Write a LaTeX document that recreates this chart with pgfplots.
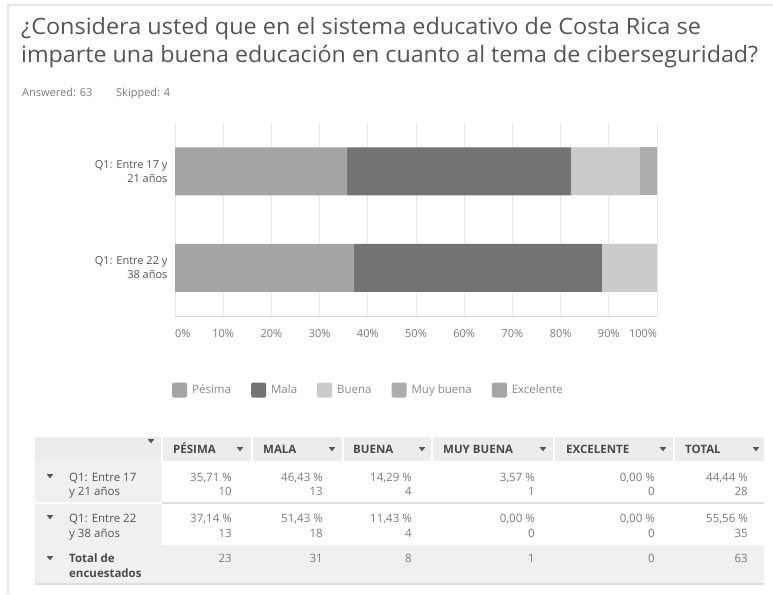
\documentclass[border=0pt]{standalone}
\usepackage{pgfplots}
\pgfplotsset{compat=1.18}
\usepackage{fontspec}
\setmainfont{Open Sans}[Ligatures=NoCommon]
\definecolor{titlec}{HTML}{555555}
\definecolor{subc}{HTML}{7A7A7A}
\definecolor{cardline}{HTML}{E6E6E6}
\definecolor{pesima}{HTML}{A4A4A4}
\definecolor{mala}{HTML}{747474}
\definecolor{buena}{HTML}{CBCBCB}
\definecolor{muybuena}{HTML}{ADADAD}
\definecolor{excelente}{HTML}{A6A6A6}
\definecolor{gridc}{HTML}{E8E8E8}
\definecolor{axisc}{HTML}{D2D2D2}
\definecolor{tickc}{HTML}{7A7A7A}
\definecolor{ylabc}{HTML}{555555}
\definecolor{legc}{HTML}{8A8A8A}
\definecolor{thead}{HTML}{ECECEC}
\definecolor{tgray}{HTML}{F0F0F0}
\definecolor{tline}{HTML}{DEDEDE}
\definecolor{theadtxt}{HTML}{4A4A4A}
\definecolor{tlab}{HTML}{555555}
\definecolor{tval}{HTML}{7A7A7A}
\definecolor{tarrow}{HTML}{555555}
\newcommand{\tarr}[2]{\fill[tarrow] (#1-3.2,#2-1.8) -- (#1+3.2,#2-1.8) -- (#1,#2+2.2) -- cycle;}
\begin{document}
\begin{tikzpicture}
\path[use as bounding box, fill=white] (0pt,0pt) rectangle (773pt,-594pt);
\begin{scope}[x=1pt,y=-1pt]
  \draw[cardline, line width=1.2pt] (773,5) -- (8,5) -- (8,594);
  \node[anchor=base west, inner sep=0pt, text=titlec, font=\fontsize{22.5}{26}\selectfont] at (21,35) {\scalebox{1.042}[1]{¿Considera usted que en el sistema educativo de Costa Rica se}};
  \node[anchor=base west, inner sep=0pt, text=titlec, font=\fontsize{22.5}{26}\selectfont] at (21,63) {\scalebox{1.034}[1]{imparte una buena educación en cuanto al tema de ciberseguridad?}};
  \node[anchor=base west, inner sep=0pt, text=subc, font=\fontsize{11}{13}\selectfont] at (22,96) {Answered: 63};
  \node[anchor=base west, inner sep=0pt, text=subc, font=\fontsize{11}{13}\selectfont] at (116,96) {Skipped: 4};
\end{scope}
\begin{axis}[
  at={(175pt,-316pt)}, anchor=south west,
  scale only axis, width=482pt, height=193pt,
  xbar stacked, bar width=48pt,
  xmin=0, xmax=100, ymin=-0.5, ymax=1.5,
  enlargelimits=false,
  separate axis lines,
  axis x line*=bottom, axis y line*=left,
  x axis line style={-, draw=axisc, line width=1pt},
  y axis line style={draw=none},
  major tick length=0pt,
  xmajorgrids=true,
  major grid style={draw=gridc, line width=0.9pt},
  xtick={0,10,20,30,40,50,60,70,80,90,100},
  xticklabels={\makebox[0pt][l]{0\%},10\%,20\%,30\%,40\%,50\%,60\%,70\%,80\%,90\%,\makebox[0pt][r]{100\%}},
  xticklabel style={font=\fontsize{11}{13}\selectfont, text=tickc, yshift=-10pt},
  ytick={0,1},
  yticklabels={{Q1: Entre 22 y\\38 años},{Q1: Entre 17 y\\21 años}},
  yticklabel style={align=right, font=\fontsize{11}{14}\selectfont, text=ylabc, xshift=-4pt},
  /pgf/number format/assume math mode=true,
  legend columns=5,
  legend cell align=left,
  legend image code/.code={\fill[#1, rounded corners=1.5pt] (0pt,-7.5pt) rectangle (15pt,7.5pt);},
  legend style={at={(0,0)}, anchor=west, xshift=-3pt, yshift=-74pt, draw=none, fill=none,
    inner sep=0pt, font=\fontsize{11.5}{14}\selectfont, text=legc,
    nodes={inner sep=0pt},
    /tikz/every odd column/.append style={column sep=5pt},
    /tikz/every even column/.append style={column sep=20pt}},
]
\addplot[fill=pesima, draw=none] coordinates {(35.71,1) (37.14,0)};
\addplot[fill=mala, draw=none] coordinates {(46.43,1) (51.43,0)};
\addplot[fill=buena, draw=none] coordinates {(14.29,1) (11.43,0)};
\addplot[fill=muybuena, draw=none] coordinates {(3.57,1) (0,0)};
\addplot[fill=excelente, draw=none] coordinates {(0,1) (0,0)};
\legend{Pésima, Mala, Buena, Muy buena, Excelente}
\end{axis}
\begin{scope}[x=1pt,y=-1pt]
  % backgrounds
  \fill[thead] (35,437) rectangle (764,461);
  \fill[tgray] (35,461) rectangle (162,545);
  \fill[tgray] (35,545) rectangle (764,584);
  \draw[tline, line width=1.5pt] (162,503) -- (764,503);
  \draw[white, line width=1.5pt] (35,503) -- (162,503);
  \foreach \c in {162,252,343,432,554,674} {\draw[white, line width=1.8pt] (\c,437) -- (\c,461);}
  \draw[tline, line width=1.2pt] (35,584) -- (764,584);
  % header
  \tarr{151}{441}
  \begin{scope}[every node/.style={anchor=base west, inner sep=0pt, text=theadtxt, font=\fontsize{11.5}{14}\bfseries\selectfont}]
    \node at (173,453) {PÉSIMA};
    \node at (263,453) {MALA};
    \node at (353,453) {BUENA};
    \node at (443,453) {MUY BUENA};
    \node at (566,453) {EXCELENTE};
    \node at (685,453) {TOTAL};
  \end{scope}
  \foreach \c in {240,332,422,543,663,756} {\tarr{\c}{449}}
  % row labels
  \tarr{50}{476} \tarr{50}{517} \tarr{50}{558}
  \begin{scope}[every node/.style={anchor=base west, inner sep=0pt, text=tlab, font=\fontsize{11.5}{14}\selectfont}]
    \node at (69,481) {Q1: Entre 17};
    \node at (69,495) {y 21 años};
    \node at (69,522) {Q1: Entre 22};
    \node at (69,537) {y 38 años};
    \node[font=\fontsize{11.5}{14}\bfseries\selectfont, text=theadtxt] at (69,562) {Total de};
    \node[font=\fontsize{11.5}{14}\bfseries\selectfont, text=theadtxt] at (69,577) {encuestados};
  \end{scope}
  \begin{scope}[every node/.style={anchor=base east, inner sep=0pt, text=tval, font=\fontsize{11.5}{14}\selectfont}]
    \node at (232,481) {35,71 \%}; \node at (232,495) {10};
    \node at (323,481) {46,43 \%}; \node at (323,495) {13};
    \node at (412,481) {14,29 \%}; \node at (412,495) {4};
    \node at (535,481) {3,57 \%};  \node at (535,495) {1};
    \node at (655,481) {0,00 \%};  \node at (655,495) {0};
    \node at (748,481) {44,44 \%}; \node at (748,495) {28};
    \node at (232,522) {37,14 \%}; \node at (232,537) {13};
    \node at (323,522) {51,43 \%}; \node at (323,537) {18};
    \node at (412,522) {11,43 \%}; \node at (412,537) {4};
    \node at (535,522) {0,00 \%};  \node at (535,537) {0};
    \node at (655,522) {0,00 \%};  \node at (655,537) {0};
    \node at (748,522) {55,56 \%}; \node at (748,537) {35};
    \node at (232,562) {23};
    \node at (323,562) {31};
    \node at (412,562) {8};
    \node at (535,562) {1};
    \node at (655,562) {0};
    \node at (748,562) {63};
  \end{scope}
\end{scope}
\end{tikzpicture}
\end{document}
